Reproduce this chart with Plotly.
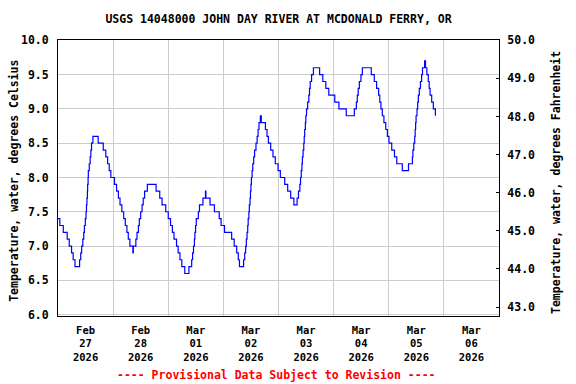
import pandas as pd
import plotly.graph_objects as go

# ---- data (hours since 2026-02-27 00:00, water temperature in deg C; step changes) ----
hours = [0, 0.8, 2.3, 4.0, 4.9, 5.9, 6.6, 7.4, 9.4, 9.9, 10.3, 10.8, 11.2, 11.5, 11.9, 12.2,
         12.4, 12.6, 12.8, 12.9, 13.1, 13.2, 13.6, 14.0, 14.3, 14.6, 15.2, 17.5, 19.7, 20.8,
         21.6, 22.3, 23.0, 24.6, 25.5, 26.3, 27.0, 27.8, 28.6, 29.3, 30.0, 30.6, 31.3, 32.6,
         32.8, 33.9, 34.4, 35.0, 35.4, 36.0, 36.6, 37.1, 37.7, 38.9, 42.7, 44.3, 45.3, 46.9,
         48.0, 49.0, 49.8, 50.5, 51.6, 52.3, 53.1, 53.9, 55.2, 57.0, 58.2, 58.6, 59.0, 59.4,
         59.6, 59.9, 60.2, 61.1, 61.6, 63.1, 64.2, 64.4, 66.2, 68.1, 70.2, 71.0, 72.5, 75.6,
         76.7, 77.8, 78.5, 79.0, 80.8, 81.3, 81.7, 82.0, 82.3, 82.6, 82.8, 83.1, 83.3, 83.6,
         83.8, 84.0, 84.2, 84.5, 84.8, 85.2, 85.6, 86.2, 86.7, 87.1, 87.5, 88.1, 88.5, 90.3,
         91.0, 91.6, 92.6, 93.6, 94.6, 95.8, 96.8, 98.7, 100.0, 101.3, 102.7, 104.1, 104.7,
         105.3, 105.6, 105.9, 106.2, 106.4, 106.7, 107.0, 107.2, 107.4, 107.7, 107.9, 108.2,
         108.7, 109.2, 109.5, 109.8, 110.4, 111.2, 113.9, 115.3, 116.6, 117.9, 120.5, 122.3,
         125.5, 129.0, 129.9, 130.3, 130.7, 131.2, 131.9, 132.5, 136.4, 137.7, 138.7, 139.6,
         140.1, 140.6, 141.2, 141.9, 142.7, 143.4, 144.1, 145.3, 146.5, 147.5, 149.9, 152.6,
         154.3, 154.5, 154.9, 155.3, 155.5, 155.7, 155.9, 156.3, 156.6, 156.9, 157.3, 157.8,
         158.3, 158.7, 159.6, 160.0, 160.6, 161.2, 161.6, 162.0, 162.7, 163.4, 164.3]
temps_c = [7.4, 7.3, 7.2, 7.1, 7.0, 6.9, 6.8, 6.7, 6.8, 6.9, 7.0, 7.1, 7.2, 7.3, 7.4, 7.5,
           7.6, 7.7, 7.8, 7.9, 8.0, 8.1, 8.2, 8.3, 8.4, 8.5, 8.6, 8.5, 8.4, 8.3,
           8.2, 8.1, 8.0, 7.9, 7.8, 7.7, 7.6, 7.5, 7.4, 7.3, 7.2, 7.1, 7.0, 6.9,
           7.0, 7.1, 7.2, 7.3, 7.4, 7.5, 7.6, 7.7, 7.8, 7.9, 7.8, 7.7, 7.6, 7.5,
           7.4, 7.3, 7.2, 7.1, 7.0, 6.9, 6.8, 6.7, 6.6, 6.7, 6.8, 6.9, 7.0, 7.1,
           7.2, 7.3, 7.4, 7.5, 7.6, 7.7, 7.8, 7.7, 7.6, 7.5, 7.4, 7.3, 7.2, 7.1,
           7.0, 6.9, 6.8, 6.7, 6.8, 6.9, 7.0, 7.1, 7.2, 7.3, 7.4, 7.5, 7.6, 7.7,
           7.8, 7.9, 8.0, 8.1, 8.2, 8.3, 8.4, 8.5, 8.6, 8.7, 8.8, 8.9, 8.8, 8.7,
           8.6, 8.5, 8.4, 8.3, 8.2, 8.1, 8.0, 7.9, 7.8, 7.7, 7.6, 7.7, 7.8,
           7.9, 8.0, 8.1, 8.2, 8.3, 8.4, 8.5, 8.6, 8.7, 8.8, 8.9, 9.0,
           9.1, 9.2, 9.3, 9.4, 9.5, 9.6, 9.5, 9.4, 9.3, 9.2, 9.1, 9.0,
           8.9, 9.0, 9.1, 9.2, 9.3, 9.4, 9.5, 9.6, 9.5, 9.4, 9.3, 9.2,
           9.1, 9.0, 8.9, 8.8, 8.7, 8.6, 8.5, 8.4, 8.3, 8.2, 8.1, 8.2,
           8.3, 8.4, 8.5, 8.6, 8.7, 8.8, 8.9, 9.0, 9.1, 9.2, 9.3, 9.4,
           9.5, 9.6, 9.7, 9.6, 9.5, 9.4, 9.3, 9.2, 9.1, 9.0, 8.9]

start_date = "2026-02-27 00:00"
end_date = "2026-03-07 00:00"
y_range_c = [5.98, 10.005]

title_text = "USGS 14048000 JOHN DAY RIVER AT MCDONALD FERRY, OR"
left_title = "Temperature, water, degrees Celsius"
right_title = "Temperature, water, degrees Fahrenheit"
note_text = "---- Provisional Data Subject to Revision ----"


def c2f(c):
    return c * 9.0 / 5.0 + 32.0


base = pd.Timestamp(start_date)
times = base + pd.to_timedelta(hours, unit="h")
temps_f = [c2f(t) for t in temps_c]

FONT = "DejaVu Sans Mono"
GRID = "#cccccc"

fig = go.Figure()
fig.add_trace(go.Scatter(x=times, y=temps_c, mode="lines", line=dict(color="#0000ff", width=1.2, shape="hv"),
                         hoverinfo="skip", showlegend=False))
fig.add_trace(go.Scatter(x=times, y=temps_f, mode="lines", yaxis="y2", opacity=0,
                         line=dict(color="rgba(0,0,0,0)", width=0, shape="hv"), hoverinfo="skip", showlegend=False))

fig.update_layout(
    width=576, height=384,
    margin=dict(l=58, r=77, t=40, b=68, pad=0),
    plot_bgcolor="white", paper_bgcolor="white",
    showlegend=False,
    font=dict(family=FONT, size=11.5, color="black", weight="bold"),
    title=dict(text=title_text, x=0.5, xref="paper", xanchor="center",
               y=1 - 19 / 384, yref="container", yanchor="middle",
               font=dict(family=FONT, size=11.5, color="black", weight="bold")),
    xaxis=dict(type="date", range=[start_date, end_date], tick0=start_date, dtick=86400000,
               tickformat="%b<br>%d<br>%Y", ticklabelmode="period",
               showgrid=True, gridcolor=GRID, gridwidth=1, ticks="",
               showline=True, linecolor="black", linewidth=1, mirror=True,
               ticklabelstandoff=4,
               tickfont=dict(family=FONT, size=10.5, color="black", weight="bold"),
               zeroline=False),
    yaxis=dict(range=y_range_c, tick0=6.0, dtick=0.5, tickformat=".1f",
               showgrid=True, gridcolor=GRID, gridwidth=1, ticks="",
               showline=True, linecolor="black", linewidth=1, mirror=True,
               ticklabelstandoff=6, zeroline=False,
               tickfont=dict(family=FONT, size=11.5, color="black", weight="bold")),
    yaxis2=dict(overlaying="y", side="right", range=[c2f(v) for v in y_range_c],
                tick0=43.0, dtick=1.0, tickformat=".1f", showgrid=False,
                ticks="inside", ticklen=3, tickcolor="black",
                showline=True, linecolor="black", linewidth=1,
                ticklabelstandoff=5, zeroline=False,
                tickfont=dict(family=FONT, size=11.5, color="black", weight="bold")),
    annotations=[
        dict(text=left_title, xref="paper", yref="paper", x=(14 - 58) / 442, y=0.49,
             xanchor="center", yanchor="middle", textangle=-90, showarrow=False,
             font=dict(family=FONT, size=11.5, color="black", weight="bold")),
        dict(text=right_title, xref="paper", yref="paper", x=(557 - 58) / 442, y=0.485,
             xanchor="center", yanchor="middle", textangle=-90, showarrow=False,
             font=dict(family=FONT, size=11.5, color="black", weight="bold")),
        dict(text=note_text, xref="paper", yref="paper", x=0.495, y=(316 - 375) / 276.5,
             xanchor="center", yanchor="middle", showarrow=False,
             font=dict(family=FONT, size=11.5, color="#ff0000", weight="bold")),
    ],
)

fig.write_html("out.html", config={"displayModeBar": False},
               post_script="document.body.style.margin='0px';")
